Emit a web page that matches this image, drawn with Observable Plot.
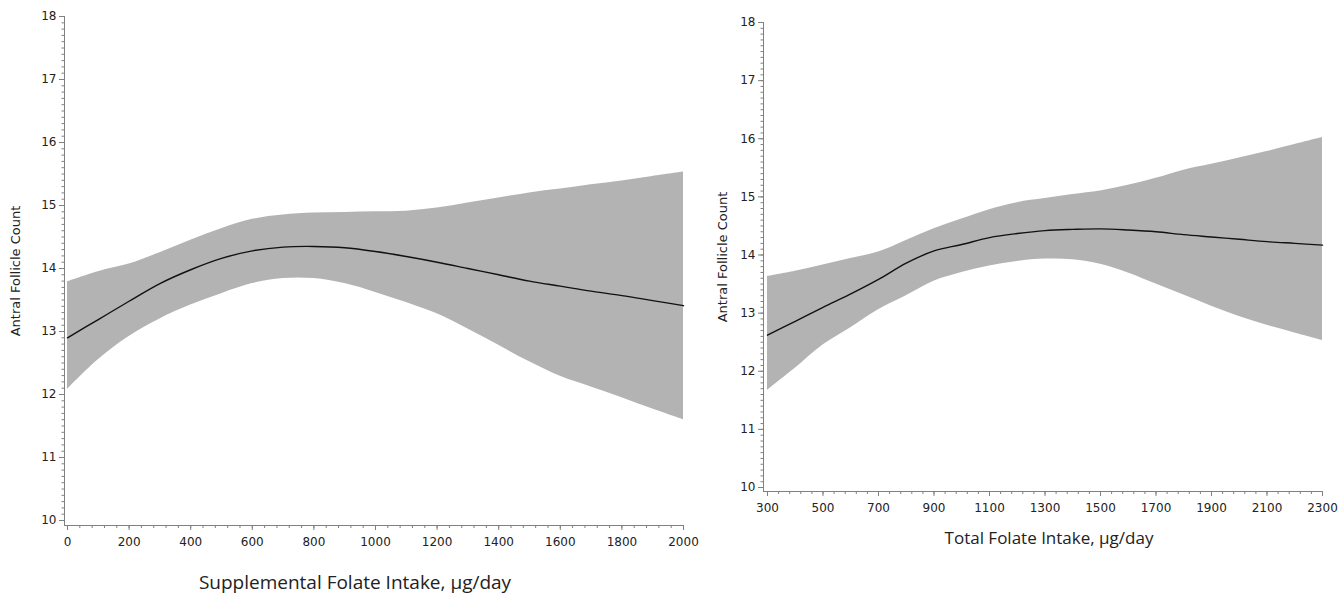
<!DOCTYPE html>
<html><head><meta charset="utf-8">
<script src="https://cdn.jsdelivr.net/npm/d3@7"></script>
<script src="https://cdn.jsdelivr.net/npm/@observablehq/plot@0.6"></script>
<style>
body{margin:0;background:#fff;width:1344px;height:604px;overflow:hidden;position:relative}
#left,#right{position:absolute;top:0}
#left{left:0}
#right{left:702px}
</style></head><body>
<div id="left"></div><div id="right"></div>
<script>
// Supplemental folate intake panel
const suppX     = [0,100,200,300,400,500,600,700,800,900,1000,1100,1200,1300,1400,1500,1600,1700,1800,1900,2000];
const suppFit   = [12.90,13.19,13.48,13.76,13.98,14.16,14.28,14.34,14.35,14.33,14.27,14.19,14.10,14.00,13.90,13.80,13.72,13.64,13.57,13.49,13.41];
const suppUpper = [13.79,13.95,14.07,14.25,14.45,14.63,14.78,14.85,14.88,14.89,14.90,14.91,14.96,15.04,15.12,15.20,15.26,15.33,15.39,15.46,15.53];
const suppLower = [12.08,12.55,12.92,13.20,13.42,13.60,13.76,13.84,13.84,13.76,13.62,13.46,13.28,13.04,12.78,12.52,12.29,12.12,11.95,11.77,11.60];
const suppTicks = [0,200,400,600,800,1000,1200,1400,1600,1800,2000];

// Total folate intake panel
const totalX     = [300,400,500,600,700,800,900,1000,1100,1200,1300,1400,1500,1600,1700,1800,1900,2000,2100,2200,2300];
const totalFit   = [12.62,12.86,13.10,13.33,13.58,13.86,14.07,14.18,14.30,14.37,14.42,14.44,14.45,14.43,14.40,14.35,14.31,14.27,14.23,14.20,14.17];
const totalUpper = [13.63,13.72,13.83,13.94,14.05,14.25,14.45,14.62,14.78,14.90,14.97,15.04,15.10,15.20,15.32,15.46,15.56,15.67,15.78,15.90,16.02];
const totalLower = [11.67,12.05,12.45,12.75,13.06,13.30,13.55,13.70,13.81,13.89,13.93,13.92,13.84,13.69,13.50,13.31,13.12,12.94,12.79,12.66,12.53];
const totalTicks = [300,500,700,900,1100,1300,1500,1700,1900,2100,2300];

const yTicks = [10,11,12,13,14,15,16,17,18];
const yLabel = "Antral Follicle Count";
const suppLabel = "Supplemental Folate Intake, µg/day";
const totalLabel = "Total Folate Intake, µg/day";

function panel(o) {
  const data = o.xs.map((x, i) => ({x, fit: o.fit[i], lo: o.lo[i], hi: o.hi[i]}));
  const minorX = d3.range(o.xDomain[0], o.xDomain[1] + 1, 40);
  const minorY = d3.range(100, 181, 1).map(d => d / 10);
  const axisColor = "#808080";
  return Plot.plot({
    width: o.width, height: o.height,
    marginLeft: o.mL, marginRight: o.mR, marginTop: o.mT, marginBottom: o.mB,
    insetLeft: o.inL, insetBottom: o.inB,
    style: {fontFamily: "DejaVu Sans", fontSize: "12px", color: "#222", background: "transparent", overflow: "visible"},
    x: {domain: o.xDomain},
    y: {domain: [10, 18]},
    marks: [
      Plot.areaY(data, {x: "x", y1: "lo", y2: "hi", fill: "#b3b3b3", curve: "catmull-rom"}),
      Plot.lineY(data, {x: "x", y: "fit", stroke: "#111", strokeWidth: 1.4, curve: "catmull-rom"}),
      Plot.axisX({ticks: minorX, tickSize: 3, tickFormat: () => "", label: null, stroke: axisColor}),
      Plot.axisX({ticks: o.xTicks, tickSize: 5, tickPadding: 7, tickFormat: d => String(d), label: null, stroke: axisColor}),
      Plot.axisY({ticks: minorY, tickSize: 2.5, tickFormat: () => "", label: null, stroke: axisColor}),
      Plot.axisY({ticks: yTicks, tickSize: 5, tickPadding: 3, tickFormat: d => String(d), label: null, stroke: axisColor}),
      Plot.frame({anchor: "left", stroke: axisColor}),
      Plot.frame({anchor: "bottom", stroke: axisColor}),
      Plot.text([o.xLabel], {frameAnchor: "bottom", dy: o.labelDy, dx: o.labelDx, fontSize: o.labelSize, fontFamily: "Open Sans", fill: "#222"}),
      Plot.text([yLabel], {frameAnchor: "left", rotate: -90, dx: o.yLabelDx, textAnchor: "middle", fill: "#222", fontSize: 13})
    ]
  });
}

document.getElementById("left").append(panel({
  xs: suppX, fit: suppFit, lo: suppLower, hi: suppUpper, xTicks: suppTicks, xDomain: [0, 2000],
  xLabel: suppLabel, width: 702, height: 604, mL: 64, mR: 19, mT: 16, mB: 79, inL: 3, inB: 5,
  labelDy: 63, labelDx: -19, labelSize: 19, yLabelDx: -49
}));
document.getElementById("right").append(panel({
  xs: totalX, fit: totalFit, lo: totalLower, hi: totalUpper, xTicks: totalTicks, xDomain: [300, 2300],
  xLabel: totalLabel, width: 642, height: 604, mL: 61, mR: 22, mT: 22, mB: 113, inL: 4, inB: 4,
  labelDy: 52, labelDx: 6, labelSize: 17, yLabelDx: -41
}));
</script>
</body></html>
